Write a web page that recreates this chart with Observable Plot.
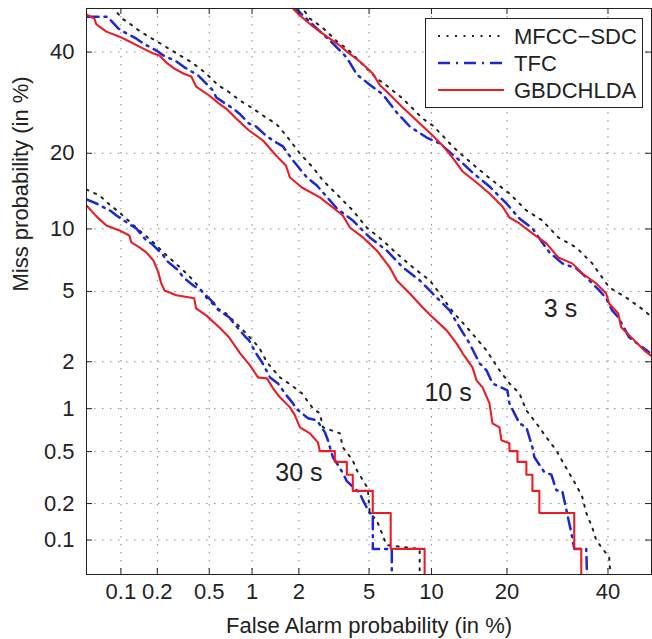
<!DOCTYPE html>
<html>
<head>
<meta charset="utf-8">
<script src="https://cdn.jsdelivr.net/npm/d3@7"></script>
<script src="https://cdn.jsdelivr.net/npm/@observablehq/plot@0.6"></script>
<style>
html,body{margin:0;padding:0;background:#fff;}
#chart{position:relative;width:652px;height:639px;}
</style>
</head>
<body>
<div id="chart"></div>
<script>
// ---------- data (percent) ----------
const xTicks = [0.1, 0.2, 0.5, 1, 2, 5, 10, 20, 40];
const xTickLabels = ["0.1", "0.2", "0.5", "1", "2", "5", "10", "20", "40"];
const yTicks = [0.1, 0.2, 0.5, 1, 2, 5, 10, 20, 40];
const yTickLabels = ["0.1", "0.2", "0.5", "1", "2", "5", "10", "20", "40"];
const axisLimits = [0.05, 50];

const systems = ["MFCC−SDC", "TFC", "GBDCHLDA"];
const durations = ["3 s", "10 s", "30 s"];
const durationLabelFA = [29.8, 11.8, 2.0];
const durationLabelMiss = [3.63, 1.12, 0.30];

// [false alarm %, miss %]
const det3_MFCC = [[2.029,50.9],[2.333,47.64],[2.671,46.06],[2.936,44.65],[3.344,42.4],[3.799,40.78],[4.47,37.9],[5.04,35.69],[5.48,34.2],[6.15,32.7],[7.37,30.03],[8.22,28.04],[9.13,26.11],[10.12,24.82],[11.19,23.0],[12.33,21.13],[13.57,19.63],[15.41,17.77],[17.72,15.87],[20.4,14.11],[23.31,12.02],[26.25,10.89],[29.36,9.16],[33.06,8.24],[36.49,6.92],[40.26,5.25],[44.12,4.65],[48.3,3.96],[50.4,3.58]];
const det3_TFC = [[1.85,50.5],[2.029,49.07],[2.567,45.36],[3.053,42.6],[3.706,39.22],[3.947,37.67],[4.31,35.06],[5.04,32.9],[5.88,30.86],[6.89,27.28],[7.96,24.64],[9.52,22.65],[10.86,21.63],[13.19,18.85],[14.86,17.02],[17.27,15.04],[19.91,12.85],[22.09,11.11],[24.4,10.05],[27.61,7.81],[30.17,6.92],[33.06,6.54],[35.2,5.9],[38.06,5.06],[39.59,4.6],[40.94,3.96],[42.32,3.63],[44.83,2.795],[49.45,2.281]];
const det3_GBDCHLDA = [[1.762,50.7],[2.029,48.37],[2.431,45.83],[2.936,43.5],[3.477,41.47],[3.799,40.1],[4.47,37.9],[5.225,35.27],[5.68,32.79],[6.15,31.47],[7.37,28.23],[8.57,25.73],[10.12,23.0],[11.19,21.3],[12.33,19.31],[13.57,17.16],[15.41,15.59],[17.27,14.11],[19.27,12.48],[20.4,11.22],[22.09,10.57],[24.4,9.55],[27.02,8.6],[29.36,7.39],[32.21,6.92],[34.36,6.17],[37.38,5.5],[39.59,4.88],[40.26,4.32],[42.32,3.81],[42.98,3.19],[46.0,2.684],[48.3,2.344],[50.4,2.127]];

const det10_MFCC = [[0.075,51.9],[0.0863,50.0],[0.103,47.64],[0.125,46.06],[0.1457,44.65],[0.176,43.27],[0.212,41.94],[0.254,40.55],[0.303,39.22],[0.3615,37.9],[0.429,36.34],[0.4995,34.63],[0.58,32.79],[0.684,31.47],[0.829,29.62],[1.016,28.04],[1.183,26.69],[1.459,25.0],[1.688,22.83],[2.029,19.96],[2.431,17.77],[2.784,15.87],[3.477,13.61],[4.095,12.02],[4.86,10.15],[5.88,8.87],[6.89,7.72],[8.22,6.62],[9.82,5.7],[10.54,5.12],[12.33,3.91],[14.46,3.065],[16.83,2.344],[18.8,1.771],[20.4,1.465],[22.09,1.262],[23.31,0.974],[25.12,0.794],[27.02,0.634],[28.96,0.51],[31.0,0.376],[33.06,0.279],[34.36,0.225],[35.2,0.168],[36.49,0.128],[37.38,0.0997],[38.71,0.085],[40.26,0.0711],[40.71,0.04]];
const det10_TFC = [[0.05,48.1],[0.0765,48.1],[0.0953,45.36],[0.105,44.65],[0.135,43.04],[0.154,41.94],[0.197,40.33],[0.2235,39.22],[0.283,37.9],[0.32,36.78],[0.415,34.84],[0.452,33.77],[0.534,31.67],[0.562,30.24],[0.741,28.04],[0.817,27.08],[0.954,25.18],[1.064,24.64],[1.238,23.0],[1.375,22.14],[1.592,21.13],[1.84,18.85],[2.24,16.29],[2.567,15.18],[3.344,12.25],[4.095,10.89],[5.04,9.16],[6.15,7.98],[7.37,6.62],[8.85,5.7],[10.12,4.88],[11.98,3.96],[13.19,3.19],[14.46,2.577],[15.84,1.955],[16.83,1.771],[17.72,1.465],[20.07,1.321],[20.4,1.085],[22.09,0.794],[23.31,0.745],[24.4,0.537],[24.76,0.454],[26.63,0.351],[27.99,0.336],[28.96,0.255],[30.17,0.252],[32.21,0.106],[32.64,0.084],[35.2,0.084],[35.42,0.04]];
const det10_GBDCHLDA = [[0.05,48.6],[0.0588,47.64],[0.0613,46.3],[0.075,44.65],[0.0972,43.5],[0.118,42.4],[0.143,41.24],[0.186,39.66],[0.208,39.22],[0.236,37.67],[0.273,36.34],[0.32,35.27],[0.368,34.63],[0.4,32.49],[0.4995,30.65],[0.59,29.02],[0.662,28.04],[0.778,26.11],[0.954,23.91],[1.183,22.14],[1.438,19.63],[1.663,18.07],[1.762,16.29],[2.088,14.9],[2.671,13.61],[3.174,12.37],[3.61,11.45],[3.947,10.15],[4.64,9.16],[5.48,7.98],[6.37,6.62],[6.89,5.7],[7.96,4.88],[9.13,4.11],[10.12,3.63],[11.64,3.065],[12.81,2.577],[13.57,2.25],[14.86,1.848],[15.41,1.531],[16.26,1.382],[17.27,1.085],[17.72,0.794],[18.8,0.745],[19.11,0.603],[20.4,0.574],[20.4,0.504],[21.75,0.504],[21.75,0.42],[23.31,0.42],[23.31,0.336],[24.4,0.336],[24.4,0.252],[25.68,0.252],[25.68,0.168],[32.64,0.168],[32.64,0.084],[34.13,0.084],[34.13,0.04]];

const det30_MFCC = [[0.05,14.63],[0.0652,13.86],[0.0796,12.73],[0.0972,11.79],[0.118,10.78],[0.143,9.85],[0.186,8.69],[0.2235,7.81],[0.268,7.07],[0.32,6.39],[0.381,5.7],[0.422,5.25],[0.475,4.65],[0.562,4.11],[0.662,3.81],[0.778,3.36],[0.911,2.95],[1.114,2.44],[1.257,1.982],[1.523,1.599],[1.84,1.403],[2.088,1.262],[2.431,1.004],[2.671,0.929],[2.784,0.745],[3.477,0.676],[3.61,0.537],[4.095,0.431],[4.31,0.363],[4.92,0.265],[5.04,0.168],[5.48,0.146],[6.15,0.0904],[8.85,0.084],[8.85,0.04]];
const det30_TFC = [[0.05,13.35],[0.0613,12.85],[0.0829,11.9],[0.0916,11.45],[0.1157,10.57],[0.135,10.05],[0.163,8.87],[0.179,8.6],[0.2235,7.56],[0.236,7.15],[0.293,6.39],[0.32,5.9],[0.381,5.37],[0.436,5.06],[0.543,4.32],[0.562,4.06],[0.695,3.63],[0.741,3.4],[0.883,2.872],[0.954,2.684],[1.064,2.25],[1.166,1.982],[1.315,1.599],[1.48,1.465],[1.639,1.262],[1.84,1.085],[1.919,1.004],[2.272,0.86],[2.567,0.833],[2.86,0.687],[2.975,0.603],[3.174,0.454],[3.344,0.41],[3.61,0.346],[3.8,0.3],[4.47,0.242],[4.64,0.213],[5.04,0.167],[5.23,0.167],[5.23,0.084],[6.52,0.084],[6.52,0.04]];
const det30_GBDCHLDA = [[0.05,12.6],[0.0613,11.34],[0.075,10.36],[0.0971,9.85],[0.118,9.35],[0.1226,8.69],[0.143,8.24],[0.163,7.81],[0.186,7.15],[0.204,6.25],[0.215,5.5],[0.228,5.06],[0.283,4.77],[0.387,4.6],[0.4,4.06],[0.475,3.72],[0.59,3.19],[0.694,2.795],[0.829,2.25],[0.969,1.9],[1.096,1.599],[1.256,1.576],[1.375,1.362],[1.523,1.189],[1.762,1.02],[1.892,0.901],[2.029,0.745],[2.333,0.676],[2.6,0.583],[2.671,0.504],[3.257,0.504],[3.257,0.42],[3.799,0.42],[3.799,0.336],[4.095,0.336],[4.095,0.252],[5.225,0.252],[5.225,0.168],[6.44,0.168],[6.44,0.084],[9.32,0.084],[9.32,0.04]];

// ---------- helpers ----------
function probit(p) {
  const a = [-3.969683028665376e+01, 2.209460984245205e+02, -2.759285104469687e+02, 1.383577518672690e+02, -3.066479806614716e+01, 2.506628277459239e+00];
  const b = [-5.447609879822406e+01, 1.615858368580409e+02, -1.556989798598866e+02, 6.680131188771972e+01, -1.328068155288572e+01];
  const c = [-7.784894002430293e-03, -3.223964580411365e-01, -2.400758277161838e+00, -2.549671348283209e+00, 4.374664141464968e+00, 2.938163982698783e+00];
  const d = [7.784695709041462e-03, 3.224671290700398e-01, 2.445134137142996e+00, 3.754408661907416e+00];
  const plow = 0.02425, phigh = 1 - plow;
  let q, r;
  if (p < plow) {
    q = Math.sqrt(-2 * Math.log(p));
    return (((((c[0]*q+c[1])*q+c[2])*q+c[3])*q+c[4])*q+c[5]) / ((((d[0]*q+d[1])*q+d[2])*q+d[3])*q+1);
  }
  if (p <= phigh) {
    q = p - 0.5; r = q * q;
    return (((((a[0]*r+a[1])*r+a[2])*r+a[3])*r+a[4])*r+a[5])*q / (((((b[0]*r+b[1])*r+b[2])*r+b[3])*r+b[4])*r+1);
  }
  q = Math.sqrt(-2 * Math.log(1 - p));
  return -(((((c[0]*q+c[1])*q+c[2])*q+c[3])*q+c[4])*q+c[5]) / ((((d[0]*q+d[1])*q+d[2])*q+d[3])*q+1);
}
const P = v => probit(v / 100);

const curves = [
  {system: systems[0], dur: durations[0], pts: det3_MFCC},
  {system: systems[1], dur: durations[0], pts: det3_TFC},
  {system: systems[2], dur: durations[0], pts: det3_GBDCHLDA},
  {system: systems[0], dur: durations[1], pts: det10_MFCC},
  {system: systems[1], dur: durations[1], pts: det10_TFC},
  {system: systems[2], dur: durations[1], pts: det10_GBDCHLDA},
  {system: systems[0], dur: durations[2], pts: det30_MFCC},
  {system: systems[1], dur: durations[2], pts: det30_TFC},
  {system: systems[2], dur: durations[2], pts: det30_GBDCHLDA}
];
const rows = curves.flatMap(c => c.pts.map(([fa, miss]) => ({system: c.system, dur: c.dur, fa, miss})));

const styles = {
  "MFCC−SDC": {stroke: "#222", strokeWidth: 2, strokeDasharray: "2,6.5"},
  "TFC": {stroke: "#1b28d4", strokeWidth: 2.5, strokeDasharray: "12,6,2,6"},
  "GBDCHLDA": {stroke: "#ec1c24", strokeWidth: 2.1, strokeDasharray: null}
};

// ---------- layout ----------
const W = 652, H = 639, ML = 86, MR = 1, MT = 8, MB = 65;
const zMin = P(axisLimits[0]), zMax = P(axisLimits[1]);
const tickLen = 6;
const tlx = tickLen * (zMax - zMin) / (W - ML - MR);
const tly = tickLen * (zMax - zMin) / (H - MT - MB);
const xTz = xTicks.map(P), yTz = yTicks.map(P);
const xFmt = new Map(xTz.map((z, i) => [z, xTickLabels[i]]));
const yFmt = new Map(yTz.map((z, i) => [z, yTickLabels[i]]));

const lineMarks = systems.map(s => Plot.line(rows.filter(d => d.system === s), {
  x: d => P(d.fa), y: d => P(d.miss), z: "dur",
  stroke: styles[s].stroke, strokeWidth: styles[s].strokeWidth,
  strokeDasharray: styles[s].strokeDasharray, strokeLinejoin: "round",
  clip: true, curve: "linear"
}));

const chart = Plot.plot({
  width: W, height: H,
  marginLeft: ML, marginRight: MR, marginTop: MT, marginBottom: MB,
  style: {fontFamily: "'Liberation Sans', Arial, Helvetica, sans-serif", fontSize: "22px", color: "#222", background: "#fff"},
  x: {type: "linear", domain: [zMin, zMax], axis: null},
  y: {type: "linear", domain: [zMin, zMax], axis: null},
  marks: [
    Plot.gridX(xTz, {stroke: "#8a8a8a", strokeOpacity: 1, strokeWidth: 1, strokeDasharray: "1.5,6.5"}),
    Plot.gridY(yTz, {stroke: "#8a8a8a", strokeOpacity: 1, strokeWidth: 1, strokeDasharray: "1.5,6.5"}),
    ...lineMarks,
    Plot.frame({stroke: "#222", strokeWidth: 1}),
    Plot.ruleX(xTz, {x: d => d, y1: zMin, y2: zMin + tly, stroke: "#222"}),
    Plot.ruleX(xTz, {x: d => d, y1: zMax, y2: zMax - tly, stroke: "#222"}),
    Plot.ruleY(yTz, {y: d => d, x1: zMin, x2: zMin + tlx, stroke: "#222"}),
    Plot.ruleY(yTz, {y: d => d, x1: zMax, x2: zMax - tlx, stroke: "#222"}),
    Plot.axisX(xTz, {anchor: "bottom", tickSize: 0, tickPadding: 9, tickFormat: z => xFmt.get(z), fontSize: 22, label: null}),
    Plot.axisY(yTz, {anchor: "left", tickSize: 0, tickPadding: 12, tickFormat: z => yFmt.get(z), fontSize: 22, label: null}),
    Plot.text(["False Alarm probability (in %)"], {frameAnchor: "bottom", dy: 58, lineAnchor: "bottom", fontSize: 22, fill: "#222"}),
    Plot.text(["Miss probability (in %)"], {frameAnchor: "left", rotate: -90, dx: -66, lineAnchor: "middle", fontSize: 22, fill: "#222"}),
    Plot.text(durations, {x: (d, i) => P(durationLabelFA[i]), y: (d, i) => P(durationLabelMiss[i]), text: d => d, fontSize: 25, lineAnchor: "bottom", textAnchor: "middle", fill: "#222"})
  ]
});

// ---------- legend ----------
const svg = d3.select(chart);
const lg = svg.append("g")
  .attr("font-family", "'Liberation Sans', Arial, Helvetica, sans-serif")
  .attr("font-size", 22)
  .attr("text-anchor", "start");
lg.append("rect").attr("x", 425.5).attr("y", 18.5).attr("width", 217).attr("height", 89)
  .attr("fill", "#fff").attr("stroke", "#222").attr("stroke-width", 1);
const rowY = [36, 63, 90];
systems.forEach((s, i) => {
  const st = styles[s];
  lg.append("line").attr("x1", 438).attr("x2", 504).attr("y1", rowY[i]).attr("y2", rowY[i])
    .attr("stroke", st.stroke).attr("stroke-width", st.strokeWidth)
    .attr("stroke-dasharray", st.strokeDasharray);
  lg.append("text").attr("x", 514).attr("y", rowY[i] + 8).attr("fill", "#222")
    .style("text-anchor", "start").text(s);
});

document.getElementById("chart").appendChild(chart);
</script>
</body>
</html>
